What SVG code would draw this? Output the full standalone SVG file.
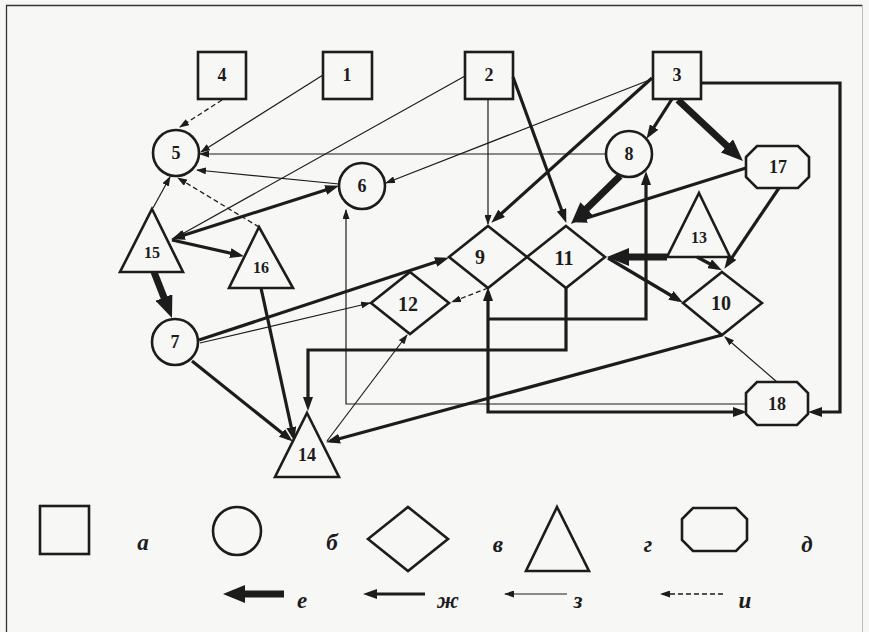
<svg xmlns="http://www.w3.org/2000/svg" width="869" height="632" viewBox="0 0 869 632">
  <style>
    .shape { fill: none; stroke: #1c1c1c; stroke-width: 2.6; stroke-linejoin: miter; }
    .lbl { font-family: "Liberation Serif", "Times New Roman", serif; font-weight: bold; font-size: 18px; fill: #1c1c1c; text-anchor: middle; dominant-baseline: central; }
    .big { font-size: 20px; }
    .small { font-size: 16px; }
    .key { font-family: "Liberation Serif", "Times New Roman", serif; font-weight: bold; font-style: italic; font-size: 23px; fill: #1c1c1c; text-anchor: middle; dominant-baseline: central; }
    .thick { fill: none; stroke: #1c1c1c; stroke-width: 7; marker-end: url(#ah-thick); }
    .med { fill: none; stroke: #1c1c1c; stroke-width: 3.2; marker-end: url(#ah-med); }
    .thin { fill: none; stroke: #1c1c1c; stroke-width: 1.2; marker-end: url(#ah-thin); }
    .dash { fill: none; stroke: #1c1c1c; stroke-width: 1.3; stroke-dasharray: 5 3; marker-end: url(#ah-thin); }
  </style>
  <defs>
    <marker id="ah-thick" viewBox="0 0 22 18" refX="13" refY="9" markerWidth="22" markerHeight="18" markerUnits="userSpaceOnUse" orient="auto-start-reverse">
      <path d="M0,0 L22,9 L0,18 z" fill="#1c1c1c"/>
    </marker>
    <marker id="ah-med" viewBox="0 0 14 10" refX="9" refY="5" markerWidth="14" markerHeight="10" markerUnits="userSpaceOnUse" orient="auto-start-reverse">
      <path d="M0,0 L14,5 L0,10 z" fill="#1c1c1c"/>
    </marker>
    <marker id="ah-thin" viewBox="0 0 10 7" refX="9" refY="3.5" markerWidth="10" markerHeight="7" markerUnits="userSpaceOnUse" orient="auto-start-reverse">
      <path d="M0,0 L10,3.5 L0,7 z" fill="#1c1c1c"/>
    </marker>
  </defs>

  <!-- page -->
  <rect x="0" y="0" width="869" height="632" fill="#f7f7f6"/>
  <path d="M6.5,640 L6.5,5.5 L862.5,5.5" fill="none" stroke="#333" stroke-width="1.3"/>
  <path d="M862.5,5.5 L862.5,640" fill="none" stroke="#b8bcc4" stroke-width="1"/>

  <!-- connectors -->
  <g id="connectors">
    <!-- thick -->
    <path class="thick" d="M678,100 L736.4,154.8"/>
    <path class="thick" d="M620,176 L577.4,217.7"/>
    <path class="thick" d="M154,272 L168.7,309.6"/>
    <path class="thick" d="M667,257 L616,257"/>
    <!-- medium -->
    <path class="med" d="M672,99 L649.2,134.6"/>
    <path class="med" d="M652,78 L495,219.3"/>
    <path class="med" d="M513,77 L564.6,218.2"/>
    <path class="med" d="M746,168 L577.8,220.8"/>
    <path class="med" d="M779,188 L727.2,264.7"/>
    <path class="med" d="M608,258 L678.6,300"/>
    <path class="med" d="M697,257 L717.5,268"/>
    <path class="med" d="M701,83 L840,83 L840,412 L813,412"/>
    <path class="med" d="M488,292 L488,412 L742,412" marker-start="url(#ah-med)"/>
    <path class="med" d="M488,319 L646,319 L646,176"/>
    <path class="med" d="M566,288 L566,350 L308,350 L308,406"/>
    <path class="med" d="M199,340 L444.2,259.3"/>
    <path class="med" d="M192,361 L288.9,438.5"/>
    <path class="med" d="M261,288 L293.2,436.1"/>
    <path class="med" d="M722,335 L330.9,441"/>
    <path class="med" d="M172,240 L239.1,255.1"/>
    <path class="med" d="M175.8,237.8 L334.2,187.2" marker-start="url(#ah-med)"/>
    <!-- thin -->
    <path class="thin" d="M323,75 L201,152"/>
    <path class="thin" d="M606,154 L200,154"/>
    <path class="thin" d="M339,184 L197,170"/>
    <path class="thin" d="M153,208 L170,177"/>
    <path class="thin" d="M465,76 L175,238"/>
    <path class="thin" d="M652,79 L386,183"/>
    <path class="thin" d="M488,99 L488,224"/>
    <path class="thin" d="M200,343 L370,303"/>
    <path class="thin" d="M327,441 L407,335"/>
    <path class="thin" d="M777,382 L725,337"/>
    <path class="thin" d="M746,404 L346,404 L346,210"/>
    <!-- dashed -->
    <path class="dash" d="M222,100 L180,127"/>
    <path class="dash" d="M259,227 L178,178"/>
    <path class="dash" d="M488,288 L452,302"/>
  </g>

  <!-- squares -->
  <g id="n4"><rect class="shape" x="198" y="52" width="48" height="47"/><text class="lbl" x="222" y="75">4</text></g>
  <g id="n1"><rect class="shape" x="323" y="52" width="49" height="47"/><text class="lbl" x="347" y="75">1</text></g>
  <g id="n2"><rect class="shape" x="465" y="52" width="48" height="47"/><text class="lbl" x="489" y="75">2</text></g>
  <g id="n3"><rect class="shape" x="653" y="52" width="48" height="47"/><text class="lbl" x="677" y="75">3</text></g>

  <!-- circles -->
  <g id="n5"><circle class="shape" cx="176" cy="153" r="23"/><text class="lbl" x="176" y="153">5</text></g>
  <g id="n6"><circle class="shape" cx="362" cy="186" r="23"/><text class="lbl" x="362" y="186">6</text></g>
  <g id="n8"><circle class="shape" cx="629" cy="154" r="23"/><text class="lbl" x="629" y="154">8</text></g>
  <g id="n7"><circle class="shape" cx="175" cy="342" r="23"/><text class="lbl" x="175" y="342">7</text></g>

  <!-- diamonds -->
  <g id="n9"><polygon class="shape" points="488,226 527,257 488,288 449,257"/><text class="lbl big" x="480" y="257">9</text></g>
  <g id="n11"><polygon class="shape" points="566,226 605,257 566,288 527,257"/><text class="lbl big" x="564" y="258">11</text></g>
  <g id="n12"><polygon class="shape" points="410,272 449,303 410,334 371,303"/><text class="lbl big" x="408" y="304">12</text></g>
  <g id="n10"><polygon class="shape" points="722,272 762,303 722,335 683,303"/><text class="lbl big" x="721" y="303">10</text></g>

  <!-- triangles -->
  <g id="n15"><polygon class="shape" points="152,209 183,272 120,272"/><text class="lbl small" x="152" y="252">15</text></g>
  <g id="n16"><polygon class="shape" points="259,227 293,288 229,288"/><text class="lbl small" x="261" y="267">16</text></g>
  <g id="n13"><polygon class="shape" points="699,193 730,257 667,257"/><text class="lbl small" x="699" y="237">13</text></g>
  <g id="n14"><polygon class="shape" points="307,413 339,477 275,477"/><text class="lbl" x="307" y="455">14</text></g>

  <!-- octagons -->
  <g id="n17"><polygon class="shape" points="757,146 798,146 809,157 809,177 798,188 757,188 746,177 746,157"/><text class="lbl" x="778" y="167">17</text></g>
  <g id="n18"><polygon class="shape" points="757,382 797,382 808,393 808,414 797,425 757,425 746,414 746,393"/><text class="lbl" x="777" y="404">18</text></g>

  <!-- legend -->
  <g id="legend">
    <rect class="shape" x="40" y="506" width="49" height="48"/>
    <text class="key" x="143" y="542">а</text>
    <circle class="shape" cx="237" cy="531" r="24"/>
    <text class="key" x="332" y="542">б</text>
    <polygon class="shape" points="408,507 448,539 408,571 368,539"/>
    <text class="key" x="498" y="544">в</text>
    <polygon class="shape" points="557,507 589,571 526,571"/>
    <text class="key" x="648" y="544">г</text>
    <polygon class="shape" points="693,508 736,508 747,519 747,540 736,551 693,551 682,540 682,519"/>
    <text class="key" x="807" y="544">д</text>

    <path class="thick" d="M284,594 L232,594"/>
    <text class="key" x="302" y="600">е</text>
    <path class="med" d="M425,594 L368,594"/>
    <text class="key" x="448" y="600">ж</text>
    <path class="thin" d="M567,594 L505,594"/>
    <text class="key" x="578" y="600">з</text>
    <path class="dash" d="M723,594 L661,594"/>
    <text class="key" x="745" y="600">и</text>
  </g>
</svg>
